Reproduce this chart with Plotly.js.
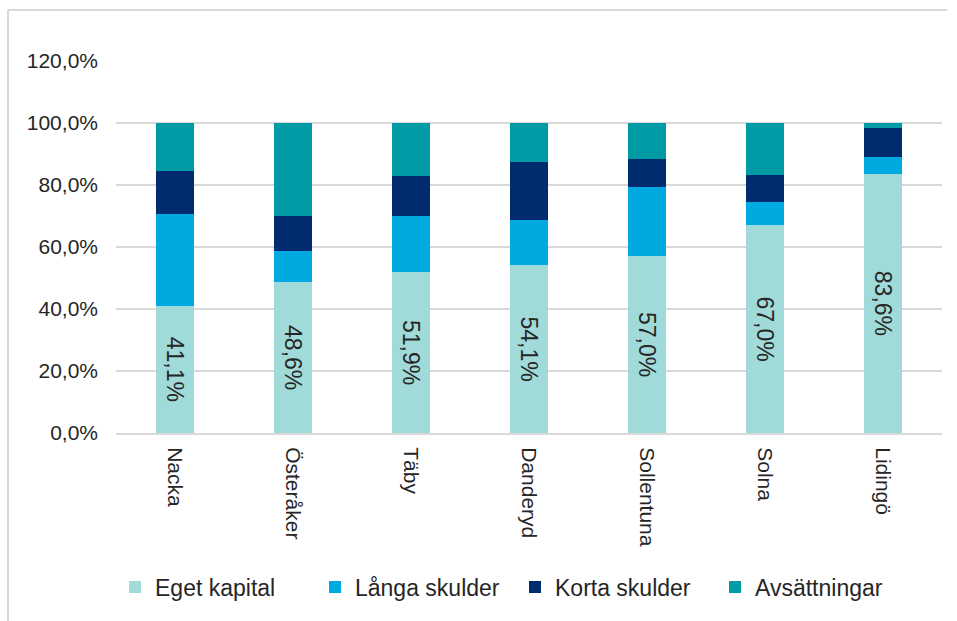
<!DOCTYPE html>
<html>
<head>
<meta charset="utf-8">
<script src="https://cdn.plot.ly/plotly-3.0.1.min.js"></script>
<style>
html,body{margin:0;padding:0;background:#fff;}
#chart{width:957px;height:621px;}
</style>
</head>
<body>
<div id="chart"></div>
<script>
// Data (percent of total)
var categories = ["Nacka", "Österåker", "Täby", "Danderyd", "Sollentuna", "Solna", "Lidingö"];
var egetKapital = [41.1, 48.6, 51.9, 54.1, 57.0, 67.0, 83.6];
var langaSkulder = [29.6, 10.1, 18.1, 14.5, 22.4, 7.5, 5.5];
var kortaSkulder = [13.9, 11.3, 12.8, 18.7, 9.0, 8.6, 9.4];
var avsattningar = [15.4, 30.0, 17.2, 12.7, 11.6, 16.9, 1.5];
var seriesNames = ["Eget kapital", "Långa skulder", "Korta skulder", "Avsättningar"];
var yTickVals = [0, 20, 40, 60, 80, 100, 120];
var yTickText = ["0,0%", "20,0%", "40,0%", "60,0%", "80,0%", "100,0%", "120,0%"];

var colors = ["#a0dbd9", "#00a9e0", "#002b6f", "#009ba5"];
var font = "Liberation Sans, Arial, sans-serif";

var traces = [
  {
    type: "bar", name: seriesNames[0], x: categories, y: egetKapital,
    marker: {color: colors[0]},
    texttemplate: "%{y:.1f}%", textposition: "inside", insidetextanchor: "middle",
    textangle: 90, constraintext: "none",
    insidetextfont: {family: font, size: 23, color: "#262626"},
    hoverinfo: "skip"
  },
  {type: "bar", name: seriesNames[1], x: categories, y: langaSkulder, marker: {color: colors[1]}, hoverinfo: "skip"},
  {type: "bar", name: seriesNames[2], x: categories, y: kortaSkulder, marker: {color: colors[2]}, hoverinfo: "skip"},
  {type: "bar", name: seriesNames[3], x: categories, y: avsattningar, marker: {color: colors[3]}, hoverinfo: "skip"}
];

var L = 116, R = 15, T = 61, B = 188;
var pw = 957 - L - R, ph = 621 - T - B;
function px(x){ return (x - L) / pw; }
function py(y){ return (621 - B - y) / ph; }

var layout = {
  width: 957, height: 621,
  margin: {l: L, r: R, t: T, b: B},
  paper_bgcolor: "#ffffff", plot_bgcolor: "#ffffff",
  separators: ", ",
  barmode: "stack",
  bargap: 0.686,
  showlegend: true,
  font: {family: font, color: "#262626", size: 21},
  xaxis: {
    type: "category",
    tickangle: 90,
    tickfont: {family: font, size: 21, color: "#262626"},
    showgrid: false, zeroline: false,
    showline: true, linecolor: "#d9d9d9", linewidth: 2,
    ticks: "",
    ticklabelstandoff: 8
  },
  yaxis: {
    range: [0, 120],
    tickvals: yTickVals,
    ticktext: yTickText,
    tickfont: {family: font, size: 21, color: "#262626"},
    showgrid: true, gridcolor: "#d9d9d9", gridwidth: 2,
    zeroline: false, showline: false, ticks: "",
    ticklabelstandoff: 17
  },
  legend: {
    orientation: "h",
    x: px(515), xanchor: "center",
    y: py(587), yanchor: "middle",
    font: {family: font, size: 23, color: "#262626"},
    traceorder: "normal",
    itemwidth: 30,
    entrywidth: 155,
    entrywidthmode: "pixels"
  },
  shapes: [
    {type: "line", xref: "paper", yref: "paper", x0: px(8), x1: px(8), y0: py(10), y1: py(640), line: {color: "#d9d9d9", width: 2}},
    {type: "line", xref: "paper", yref: "paper", x0: px(8), x1: px(947), y0: py(10), y1: py(10), line: {color: "#d9d9d9", width: 2}}
  ]
};

Plotly.newPlot("chart", traces, layout, {staticPlot: true, displayModeBar: false});
</script>
</body>
</html>
